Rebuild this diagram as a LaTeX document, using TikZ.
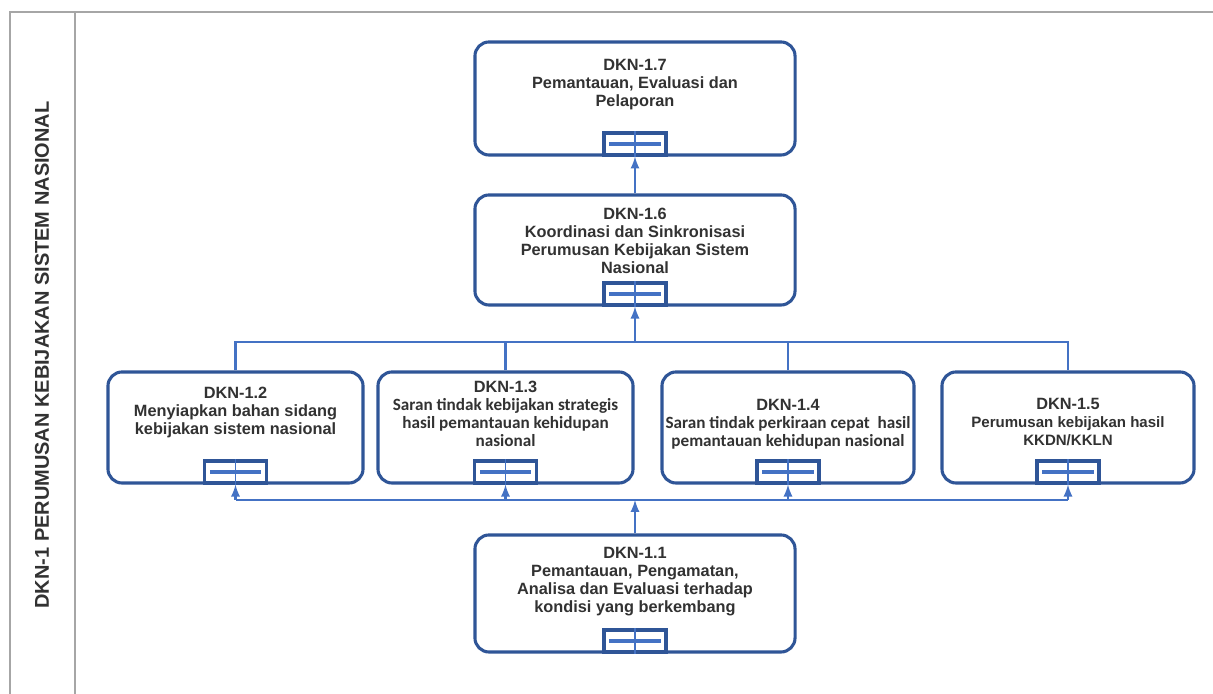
\documentclass[tikz,border=0pt]{standalone}
\usepackage{fontspec}
\setmainfont{Liberation Sans}
\newfontfamily\calfont{Carlito}
\usepackage{tikz}

\definecolor{boxblue}{RGB}{47,85,151}
\definecolor{linkblue}{RGB}{68,114,196}
\definecolor{txtgray}{RGB}{50,50,50}

\newcommand{\cb}[1]{{\calfont\fontsize{12.2}{12.8}\selectfont #1}}
\newcommand{\subtab}[1]{%
  \node[tabbox] (tab#1) at (k#1.south) {};
  \draw[tabbar] ([xshift=5pt]tab#1.west) -- ([xshift=-5pt]tab#1.east);
  \draw[conn,line width=0.9pt] (tab#1.south) -- (tab#1.north);}

\tikzset{
  box/.style={draw=boxblue,line width=2.2pt,rounded corners=10pt,fill=white,inner sep=0pt},
  tabbox/.style={draw=boxblue,line width=2.2pt,fill=white,minimum width=1.55cm,minimum height=0.55cm,inner sep=0pt,anchor=south},
  tabbar/.style={draw=linkblue,line width=3pt},
  txt/.style={align=center,text=txtgray,inner sep=0pt,font=\bfseries\fontsize{11.6}{12.8}\selectfont},
  conn/.style={draw=linkblue,line width=1.9pt},
  frame/.style={draw=gray!70,line width=0.8pt}
}

\begin{document}
\begin{tikzpicture}[x=0.025cm,y=0.025cm]
\useasboundingbox (0,0) rectangle (1213,694);
% frame
\draw [frame] (1213,682)--(10,682)--(10,0);
\draw [frame] (75,682)--(75,0);
\node [rotate=90,text=txtgray,font=\bfseries\fontsize{14.2}{16}\selectfont] (side) at (42,339) {DKN-1 PERUMUSAN KEBIJAKAN SISTEM NASIONAL};

% boxes
\node [box,minimum width=8cm,minimum height=2.825cm] (k17) at (635,595.5) {};
\node [box,minimum width=8cm,minimum height=2.75cm] (k16) at (635,444) {};
\node [box,minimum width=6.375cm,minimum height=2.775cm] (k12) at (235.5,266.5) {};
\node [box,minimum width=6.375cm,minimum height=2.775cm] (k13) at (505.5,266.5) {};
\node [box,minimum width=6.3cm,minimum height=2.775cm] (k14) at (788,266.5) {};
\node [box,minimum width=6.3cm,minimum height=2.775cm] (k15) at (1068,266.5) {};
\node [box,minimum width=8cm,minimum height=2.925cm] (k11) at (635,100.5) {};

% texts
\node [txt] (txt17) at (635,609) {DKN-1.7\\Pemantauan, Evaluasi dan\\Pelaporan};
\node [txt] (txt16) at (635,453.5) {DKN-1.6\\Koordinasi dan Sinkronisasi\\Perumusan Kebijakan Sistem\\Nasional};
\node [txt] (txt12) at (235.5,281) {DKN-1.2\\Menyiapkan bahan sidang\\kebijakan sistem nasional};
\node [txt] (txt13) at (505.5,280) {DKN-1.3\\\cb{Saran tindak kebijakan strategis}\\\cb{hasil pemantauan kehidupan}\\\cb{nasional}};
\node [txt] (txt14) at (788,270) {DKN-1.4\\\cb{Saran tindak perkiraan cepat\ \ hasil}\\\cb{pemantauan kehidupan nasional}};
\node [txt] (txt15) at (1068,272) {DKN-1.5\\{\fontsize{10.7}{12.5}\selectfont Perumusan kebijakan hasil}\\{\fontsize{10.7}{12.5}\selectfont KKDN/KKLN}};
\node [txt] (txt11) at (635,112) {DKN-1.1\\Pemantauan, Pengamatan,\\Analisa dan Evaluasi terhadap\\kondisi yang berkembang};

% tabs
\foreach \n in {17,16,12,13,14,15,11} {\subtab{\n}}

% connectors
\coordinate (busT) at (635,352);
\coordinate (busB) at (635,194);
\draw [conn] (k12.north) |- (busT) -| (k15.north);
\draw [conn] (k13.north) -- (k13.north |- busT);
\draw [conn] (k14.north) -- (k14.north |- busT);
\draw [conn,-latex] (busT) -- (tab16.south);
\draw [conn,-latex] (k16.north) -- (tab17.south);
\draw [conn,-latex] (k11.north) -- (busB);
\draw [conn] (tab12.south |- busB) -- (tab15.south |- busB);
\foreach \n in {12,13,14,15} \draw [conn,-latex] (tab\n.south |- busB) -- (tab\n.south);
\end{tikzpicture}
\end{document}
